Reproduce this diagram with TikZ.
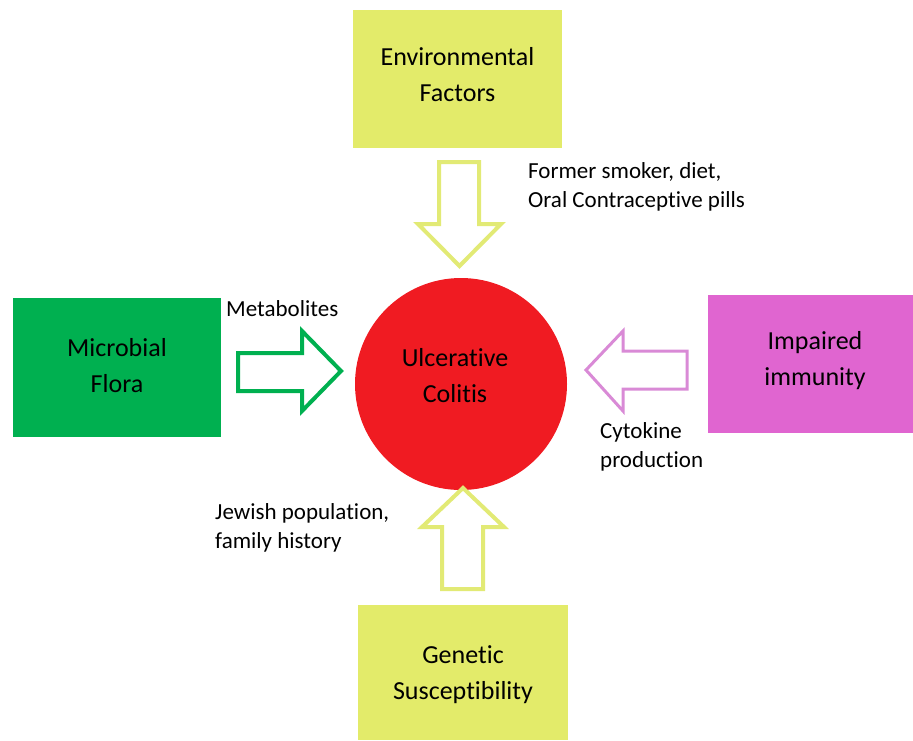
\documentclass[tikz,border=0pt]{standalone}
\usepackage{fontspec}
\setmainfont{Carlito}[Ligatures={NoCommon}]
\definecolor{ylw}{HTML}{E3EB6A}
\definecolor{ylwline}{HTML}{E2EA75}
\definecolor{grn}{HTML}{00B050}
\definecolor{mag}{HTML}{E065D0}
\definecolor{magline}{HTML}{D98AD6}
\definecolor{ucred}{HTML}{F01B22}
\tikzset{
  factor/.style={draw=none, inner sep=0pt, text=black, align=center,
    font=\fontsize{26}{36}\selectfont},
  lbl/.style={inner sep=0pt, anchor=west, align=left, text=black,
    font=\fontsize{23}{29}\selectfont},
  blockarrow/.style={line width=4pt, fill=white, line join=miter},
}
\begin{document}
\begin{tikzpicture}[x=1pt,y=-1pt]
\useasboundingbox (0,0) rectangle (913,740);
% boxes
\fill[ylw] (353,10) rectangle (562,148);
\node[factor] (env) at (457.5,75) {Environmental\\Factors};
\fill[grn] (13,298) rectangle (221,437);
\node[factor] (mic) at (117,366) {Microbial\\Flora};
\fill[mag] (708,295) rectangle (913,433);
\node[factor] (imm) at (815,361) {Impaired\\immunity};
\fill[ylw] (358,605) rectangle (568,740);
\node[factor] (gen) at (463,675) {Genetic\\Susceptibility};
% circle
\fill[ucred] (461,384) circle (106);
\node[factor] (uc) at (455,376) {Ulcerative\\Colitis};
% block arrows
\draw[blockarrow, draw=ylwline] (439,162) -- (479,162) -- (479,224) -- (501,224) -- (459.5,266) -- (418,224) -- (439,224) -- cycle;
\draw[blockarrow, draw=grn] (238,353) -- (302,353) -- (302,331) -- (341,371) -- (302,411) -- (302,391) -- (238,391) -- cycle;
\draw[blockarrow, draw=magline, line width=3pt] (687,351) -- (623,351) -- (623,331) -- (586,370) -- (623,411) -- (623,389) -- (687,389) -- cycle;
\draw[blockarrow, draw=ylwline] (442,589) -- (483,589) -- (483,527) -- (504,527) -- (463,488) -- (422,527) -- (442,527) -- cycle;
% labels
\node[lbl] (l1) at (528,187) {Former smoker, diet,\\Oral Contraceptive pills};
\node[lbl] (l2) at (226,309) {Metabolites};
\node[lbl] (l3) at (600,447) {Cytokine\\production};
\node[lbl] (l4) at (215,528) {Jewish population,\\family history};
\end{tikzpicture}
\end{document}
